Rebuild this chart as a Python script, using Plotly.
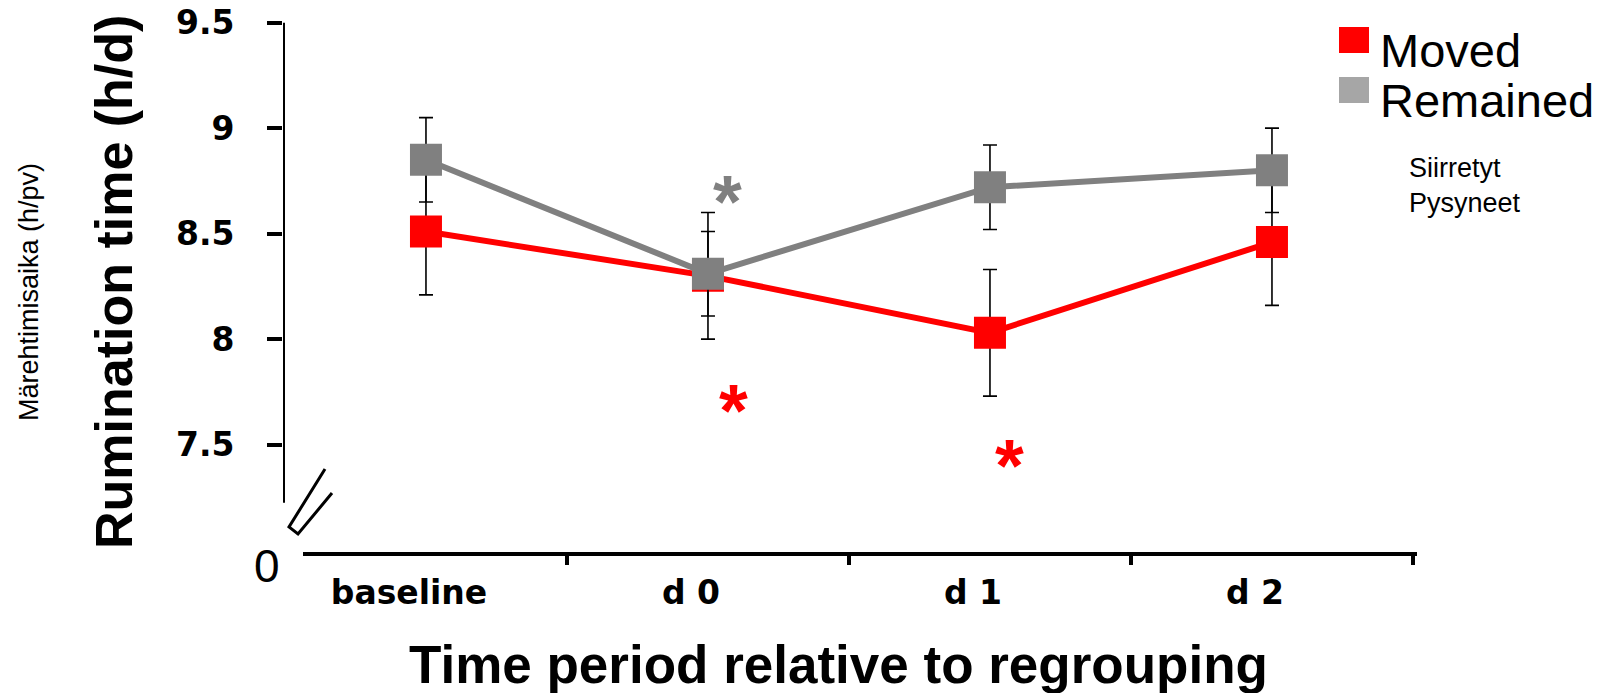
import plotly.graph_objects as go

# Category labels and group means (h/d) with standard errors
periods = ["baseline", "d 0", "d 1", "d 2"]
moved = [8.51, 8.30, 8.03, 8.46]
moved_se = [0.30, 0.30, 0.30, 0.30]
remained = [8.85, 8.31, 8.72, 8.80]
remained_se = [0.20, 0.20, 0.20, 0.20]

y_ticks = [7.5, 8, 8.5, 9, 9.5]
y_tick_text = ["7.5", "8", "8.5", "9", "9.5"]

# Significance markers: (x position, y value, colour)
stars = [(1.07, 8.70, "#808080"), (1.09, 7.71, "#ff0000"), (2.07, 7.45, "#ff0000")]

RED = "#ff0000"
GREY = "#808080"
LEGEND_GREY = "#a6a6a6"

W, H = 1610, 693
L, R, T, B = 283, 190, 10, 139
PW, PH = W - L - R, H - T - B

x_range = [-0.507, -0.507 + PW / 282.0]
y_range = [9.56 - PH / 211.0, 9.56]
AXIS_BOTTOM = 7.225


def px(xp):
    return (xp - L) / PW


def py(yp):
    return (H - B - yp) / PH


def label(x, y, text, size, bold=False, angle=0, anchor="center"):
    font = dict(family="Liberation Sans", size=size, color="black")
    if bold:
        font["weight"] = "bold"
    fig.add_annotation(xref="paper", yref="paper", x=px(x), y=py(y), text=text,
                       textangle=angle, showarrow=False, xanchor=anchor,
                       yanchor="middle", align="left", font=font)


xs = list(range(len(periods)))

fig = go.Figure()

for vals, se, col in [(moved, moved_se, RED), (remained, remained_se, GREY)]:
    fig.add_trace(go.Scatter(
        x=xs, y=vals, mode="lines+markers",
        line=dict(color=col, width=6),
        marker=dict(symbol="square", size=32, color=col),
        error_y=dict(type="data", array=se, visible=True,
                     color="black", thickness=1.6, width=7),
        showlegend=False, hoverinfo="skip",
    ))

# second x axis carries the boundary tick marks between categories
fig.add_trace(go.Scatter(x=[0.5, 3.5], y=[7.5, 7.5], xaxis="x2",
                         mode="markers", marker=dict(opacity=0),
                         showlegend=False, hoverinfo="skip"))

for sx, sy, col in stars:
    fig.add_annotation(x=sx, y=sy, text="*", showarrow=False,
                       xanchor="center", yanchor="middle",
                       font=dict(family="Liberation Sans", size=74, color=col,
                                 weight="bold"),
                       yshift=-10)

tick_font = dict(family="DejaVu Sans", size=33, color="black", weight="bold")

fig.update_layout(
    width=W, height=H,
    margin=dict(l=L, r=R, t=T, b=B, autoexpand=False),
    paper_bgcolor="white", plot_bgcolor="white",
    xaxis=dict(range=x_range, tickvals=xs, ticktext=periods, ticks="",
               showgrid=False, zeroline=False, showline=False,
               tickfont=tick_font, ticklabelshift=-17, ticklabelstandoff=16),
    xaxis2=dict(range=x_range, overlaying="x", side="bottom",
                tickvals=[0.5, 1.5, 2.5, 3.5], ticks="outside", ticklen=10,
                tickwidth=4, tickcolor="black", showticklabels=False,
                showgrid=False, zeroline=False, showline=False),
    yaxis=dict(range=y_range, tickvals=y_ticks, ticktext=y_tick_text,
               ticks="outside", ticklen=15, tickwidth=4, tickcolor="black",
               showgrid=False, zeroline=False, showline=False,
               tickfont=tick_font, ticklabelstandoff=26),
)

# axis lines: y axis stops above the break, x axis starts after it
fig.add_shape(type="line", xref="x", yref="y", x0=x_range[0], x1=x_range[0],
              y0=AXIS_BOTTOM, y1=9.5, line=dict(color="black", width=4))
fig.add_shape(type="line", xref="paper", yref="paper", x0=px(303), x1=px(1417),
              y0=0, y1=0, line=dict(color="black", width=4))

# axis break symbol
brk = [(325, 469), (289, 527), (298, 534), (332, 493)]
path = "M " + " L ".join(f"{px(a):.5f},{py(b):.5f}" for a, b in brk)
fig.add_shape(type="path", xref="paper", yref="paper", path=path,
              line=dict(color="black", width=3))

label(267, 566, "0", 46)

# axis titles
label(114, 282, "Rumination time (h/d)", 52, bold=True, angle=-90)
label(29, 292, "Märehtimisaika (h/pv)", 27, angle=-90)
label(838, 664, "Time period relative to regrouping", 53, bold=True)

# legend
for (y0, y1), col, text, ty in [((27, 53), RED, "Moved", 51),
                                 ((77, 103), LEGEND_GREY, "Remained", 101)]:
    fig.add_shape(type="rect", xref="paper", yref="paper",
                  x0=px(1339), x1=px(1369), y0=py(y1), y1=py(y0),
                  fillcolor=col, line=dict(width=0))
    label(1378, ty, text, 47, anchor="left")

label(1407, 186, "Siirretyt<br>Pysyneet", 27, anchor="left")

fig.write_html("out.html")
